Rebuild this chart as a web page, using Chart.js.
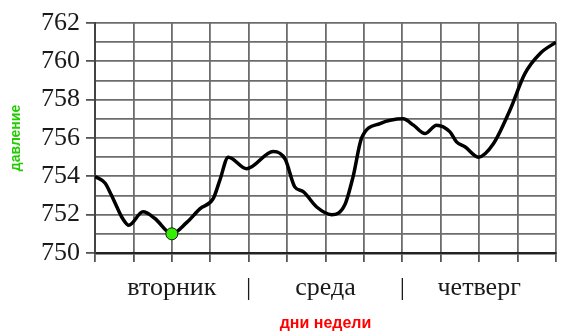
<!DOCTYPE html>
<html>
<head>
<meta charset="utf-8">
<script src="https://cdn.jsdelivr.net/npm/chart.js@4/dist/chart.umd.min.js"></script>
<style>
  html, body { margin: 0; padding: 0; background: #fff; }
  #wrap { width: 572px; height: 334px; }
</style>
</head>
<body>
<div id="wrap"><canvas id="myChart"></canvas></div>
<script>
// time along x axis (one grid step = 6 hours), pressure in mm Hg
const hours = [0, 0.26, 0.42, 0.57, 0.72, 0.88, 1.25, 1.56, 2.0, 2.39, 2.73, 3.08, 3.25, 3.47, 3.95, 4.64, 4.95,
  5.2, 5.42, 5.77, 6.16, 6.5, 6.72, 6.94, 7.42, 8.02, 8.29, 8.59, 8.89, 9.24, 9.41, 9.63, 9.98,
  10.37, 10.8, 11.19, 11.58, 12];
const pressure = [754.0, 753.65, 753.05, 752.4, 751.8, 751.45, 752.15, 751.8, 751.0, 751.6, 752.3, 752.85, 753.8, 755.0, 754.4, 755.3, 754.9,
  753.45, 753.2, 752.4, 752.0, 752.5, 754.0, 756.0, 756.75, 757.0, 756.67, 756.23, 756.67, 756.32, 755.8, 755.54, 755.0,
  755.7, 757.45, 759.36, 760.4, 761.0];

// highlighted point
const markX = [2];
const markY = [751];

// labels under the x grid lines
const dayLabels = ['', '', 'вторник', '', '|', '', 'среда', '', '|', '', 'четверг', '', ''];

const gridColor = '#6c6c6c';

const ctx = document.getElementById('myChart').getContext('2d');
window.myChart = new Chart(ctx, {
    type: 'line',
    data: {
        datasets: [{
            data: markX.map((x, i) => ({ x: x, y: markY[i] })),
            borderColor: '#1a1a1a',
            backgroundColor: '#33ee00',
            pointRadius: 6,
            pointBorderWidth: 1,
            showLine: false
        }, {
            data: hours.map((h, i) => ({ x: h, y: pressure[i] })),
            borderColor: '#000',
            borderWidth: 3.5,
            pointRadius: 0,
            cubicInterpolationMode: 'monotone',
            fill: false
        }]
    },
    options: {
        responsive: true,
        maintainAspectRatio: false,
        animation: false,
        layout: { padding: { top: 23, right: 16, left: 0, bottom: 0 } },
        plugins: { legend: { display: false }, tooltip: { enabled: false } },
        scales: {
            x: {
                type: 'linear',
                min: 0,
                max: 12,
                afterFit: (scale) => { scale.height = 81; },
                ticks: {
                    stepSize: 1,
                    autoSkip: false,
                    maxRotation: 0,
                    padding: 11,
                    color: '#1a1a1a',
                    font: { family: 'Liberation Serif', size: 26 },
                    callback: (v) => dayLabels[v] || ''
                },
                grid: { color: gridColor, lineWidth: 1.8, tickLength: 9, tickColor: '#555' },
                border: { color: '#222', width: 2.5 },
                title: {
                    display: true,
                    text: 'дни недели',
                    color: '#ff0000',
                    font: { family: 'Liberation Sans', size: 16, weight: 'bold' },
                    padding: { top: 0, bottom: 1 }
                }
            },
            y: {
                min: 750,
                max: 762,
                afterFit: (scale) => { scale.width = 95; },
                ticks: {
                    stepSize: 1,
                    autoSkip: false,
                    padding: 6,
                    color: '#1a1a1a',
                    font: { family: 'Liberation Serif', size: 26 },
                    callback: (v) => (v % 2 === 0 ? v : '')
                },
                grid: {
                    color: gridColor,
                    lineWidth: 1.8,
                    tickLength: 9,
                    tickColor: (c) => (c.tick && c.tick.value % 2 === 0 ? '#555' : 'rgba(0,0,0,0)')
                },
                border: { color: '#444', width: 2 },
                title: {
                    display: true,
                    text: 'давление',
                    color: '#22cc00',
                    font: { family: 'Liberation Sans', size: 14, weight: 'bold' },
                    padding: { top: 8, bottom: 0 }
                }
            }
        }
    }
});
</script>
</body>
</html>
